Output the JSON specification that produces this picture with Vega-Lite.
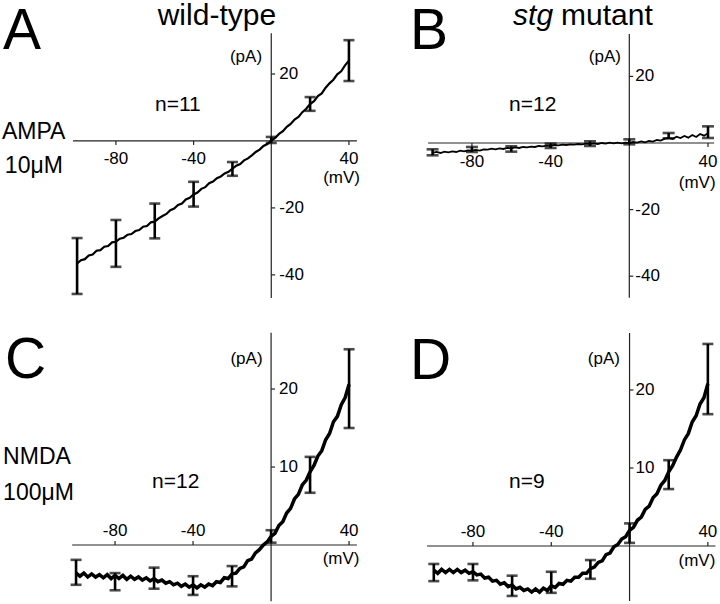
{
"$schema":"https://vega.github.io/schema/vega-lite/v6.json",
"padding":0,"spacing":0,"columns":2,"bounds":"flush",
"config":{"view":{"stroke":null},"text":{"font":"Liberation Sans","color":"#000","baseline":"alphabetic"},"rule":{"color":"#222","strokeWidth":1.2},"line":{"color":"#000"},"tick":{"color":"#000"}},
"datasets":{
"xt":[{"v":-80,"t":"-80"},{"v":-40,"t":"-40"},{"v":40,"t":"40"}],
"ytAB":[{"v":20,"t":"20"},{"v":-20,"t":"-20"},{"v":-40,"t":"-40"}],
"ytCD":[{"v":10,"t":"10"},{"v":20,"t":"20"}],
"trA":[{"v":-100,"i":-36.6},{"v":-98,"i":-35.6},{"v":-96,"i":-35.3},{"v":-94,"i":-34.2},{"v":-92,"i":-33.9},{"v":-90,"i":-32.8},{"v":-88,"i":-32.6},{"v":-86,"i":-31.6},{"v":-84,"i":-31.4},{"v":-82,"i":-30.3},{"v":-80,"i":-30.1},{"v":-78,"i":-29.2},{"v":-76,"i":-28.9},{"v":-74,"i":-28.0},{"v":-72,"i":-27.8},{"v":-70,"i":-26.9},{"v":-68,"i":-26.6},{"v":-66,"i":-25.6},{"v":-64,"i":-25.4},{"v":-62,"i":-24.3},{"v":-60,"i":-24.1},{"v":-58,"i":-23.1},{"v":-56,"i":-22.4},{"v":-54,"i":-21.8},{"v":-52,"i":-20.7},{"v":-50,"i":-20.2},{"v":-48,"i":-19.1},{"v":-46,"i":-18.7},{"v":-44,"i":-17.5},{"v":-42,"i":-17.0},{"v":-40,"i":-16.0},{"v":-38,"i":-15.4},{"v":-36,"i":-14.3},{"v":-34,"i":-13.8},{"v":-32,"i":-12.6},{"v":-30,"i":-12.1},{"v":-28,"i":-11.1},{"v":-26,"i":-10.6},{"v":-24,"i":-9.7},{"v":-22,"i":-9.2},{"v":-20,"i":-8.3},{"v":-18,"i":-7.4},{"v":-16,"i":-6.9},{"v":-14,"i":-5.8},{"v":-12,"i":-5.2},{"v":-10,"i":-4.3},{"v":-8,"i":-3.3},{"v":-6,"i":-2.6},{"v":-4,"i":-1.5},{"v":-2,"i":-0.9},{"v":0,"i":0.1},{"v":2,"i":0.9},{"v":4,"i":2.1},{"v":6,"i":2.9},{"v":8,"i":4.2},{"v":10,"i":5.1},{"v":12,"i":6.4},{"v":14,"i":7.2},{"v":16,"i":8.6},{"v":18,"i":9.6},{"v":20,"i":11.0},{"v":22,"i":11.9},{"v":24,"i":13.4},{"v":26,"i":14.2},{"v":28,"i":15.9},{"v":30,"i":17.2},{"v":32,"i":18.3},{"v":34,"i":19.9},{"v":36,"i":20.8},{"v":38,"i":22.6},{"v":40,"i":24.0}],
"trB":[{"v":-100,"i":-3.0},{"v":-98,"i":-2.7},{"v":-96,"i":-3.0},{"v":-94,"i":-2.6},{"v":-92,"i":-2.8},{"v":-90,"i":-2.5},{"v":-88,"i":-2.7},{"v":-86,"i":-2.3},{"v":-84,"i":-2.5},{"v":-82,"i":-2.2},{"v":-80,"i":-2.3},{"v":-78,"i":-2.1},{"v":-76,"i":-2.3},{"v":-74,"i":-1.9},{"v":-72,"i":-2.0},{"v":-70,"i":-1.7},{"v":-68,"i":-1.9},{"v":-66,"i":-1.6},{"v":-64,"i":-1.8},{"v":-62,"i":-1.5},{"v":-60,"i":-1.6},{"v":-58,"i":-1.3},{"v":-56,"i":-1.5},{"v":-54,"i":-1.2},{"v":-52,"i":-1.3},{"v":-50,"i":-1.1},{"v":-48,"i":-1.2},{"v":-46,"i":-0.9},{"v":-44,"i":-1.0},{"v":-42,"i":-0.8},{"v":-40,"i":-0.9},{"v":-38,"i":-0.6},{"v":-36,"i":-0.7},{"v":-34,"i":-0.5},{"v":-32,"i":-0.6},{"v":-30,"i":-0.4},{"v":-28,"i":-0.5},{"v":-26,"i":-0.3},{"v":-24,"i":-0.4},{"v":-22,"i":-0.2},{"v":-20,"i":-0.3},{"v":-18,"i":-0.1},{"v":-16,"i":-0.3},{"v":-14,"i":0.0},{"v":-12,"i":-0.2},{"v":-10,"i":0.1},{"v":-8,"i":-0.1},{"v":-6,"i":0.1},{"v":-4,"i":-0.1},{"v":-2,"i":0.1},{"v":0,"i":0.0},{"v":2,"i":0.3},{"v":4,"i":0.1},{"v":6,"i":0.5},{"v":8,"i":0.2},{"v":10,"i":0.6},{"v":12,"i":0.4},{"v":14,"i":0.9},{"v":16,"i":0.7},{"v":18,"i":1.3},{"v":20,"i":1.5},{"v":22,"i":1.2},{"v":24,"i":1.9},{"v":26,"i":1.5},{"v":28,"i":2.1},{"v":30,"i":1.6},{"v":32,"i":2.4},{"v":34,"i":1.8},{"v":36,"i":2.7},{"v":38,"i":2.2},{"v":40,"i":2.9}],
"trC":[{"v":-100,"i":-3.6},{"v":-98,"i":-4.0},{"v":-96,"i":-3.6},{"v":-94,"i":-4.1},{"v":-92,"i":-3.7},{"v":-90,"i":-4.1},{"v":-88,"i":-3.8},{"v":-86,"i":-4.2},{"v":-84,"i":-3.8},{"v":-82,"i":-4.3},{"v":-80,"i":-3.9},{"v":-78,"i":-4.3},{"v":-76,"i":-3.9},{"v":-74,"i":-4.4},{"v":-72,"i":-4.0},{"v":-70,"i":-4.4},{"v":-68,"i":-4.1},{"v":-66,"i":-4.5},{"v":-64,"i":-4.2},{"v":-62,"i":-4.6},{"v":-60,"i":-4.3},{"v":-58,"i":-4.7},{"v":-56,"i":-4.5},{"v":-54,"i":-4.9},{"v":-52,"i":-4.7},{"v":-50,"i":-5.1},{"v":-48,"i":-4.9},{"v":-46,"i":-5.3},{"v":-44,"i":-5.0},{"v":-42,"i":-5.4},{"v":-40,"i":-5.1},{"v":-38,"i":-5.5},{"v":-36,"i":-5.1},{"v":-34,"i":-5.4},{"v":-32,"i":-5.0},{"v":-30,"i":-5.2},{"v":-28,"i":-4.7},{"v":-26,"i":-4.8},{"v":-24,"i":-4.2},{"v":-22,"i":-4.3},{"v":-20,"i":-3.7},{"v":-18,"i":-3.6},{"v":-16,"i":-3.0},{"v":-14,"i":-2.8},{"v":-12,"i":-2.0},{"v":-10,"i":-1.8},{"v":-8,"i":-1.0},{"v":-6,"i":-0.6},{"v":-4,"i":0.0},{"v":-2,"i":0.4},{"v":0,"i":1.1},{"v":2,"i":1.5},{"v":4,"i":2.5},{"v":6,"i":3.0},{"v":8,"i":4.1},{"v":10,"i":4.7},{"v":12,"i":5.9},{"v":14,"i":6.5},{"v":16,"i":7.7},{"v":18,"i":8.3},{"v":20,"i":9.4},{"v":22,"i":10.2},{"v":24,"i":11.4},{"v":26,"i":12.1},{"v":28,"i":13.5},{"v":30,"i":14.3},{"v":32,"i":15.8},{"v":34,"i":16.5},{"v":36,"i":18.0},{"v":38,"i":18.9},{"v":40,"i":20.6}],
"trD":[{"v":-100,"i":-3.1},{"v":-98,"i":-3.5},{"v":-96,"i":-3.0},{"v":-94,"i":-3.4},{"v":-92,"i":-3.0},{"v":-90,"i":-3.4},{"v":-88,"i":-3.0},{"v":-86,"i":-3.4},{"v":-84,"i":-3.1},{"v":-82,"i":-3.5},{"v":-80,"i":-3.3},{"v":-78,"i":-3.7},{"v":-76,"i":-3.6},{"v":-74,"i":-4.1},{"v":-72,"i":-4.0},{"v":-70,"i":-4.5},{"v":-68,"i":-4.4},{"v":-66,"i":-4.9},{"v":-64,"i":-4.7},{"v":-62,"i":-5.2},{"v":-60,"i":-5.0},{"v":-58,"i":-5.5},{"v":-56,"i":-5.3},{"v":-54,"i":-5.7},{"v":-52,"i":-5.5},{"v":-50,"i":-5.9},{"v":-48,"i":-5.5},{"v":-46,"i":-5.9},{"v":-44,"i":-5.4},{"v":-42,"i":-5.7},{"v":-40,"i":-5.1},{"v":-38,"i":-5.3},{"v":-36,"i":-4.8},{"v":-34,"i":-4.9},{"v":-32,"i":-4.4},{"v":-30,"i":-4.5},{"v":-28,"i":-4.0},{"v":-26,"i":-4.0},{"v":-24,"i":-3.5},{"v":-22,"i":-3.5},{"v":-20,"i":-2.9},{"v":-18,"i":-2.7},{"v":-16,"i":-2.1},{"v":-14,"i":-1.9},{"v":-12,"i":-1.1},{"v":-10,"i":-0.9},{"v":-8,"i":-0.1},{"v":-6,"i":0.2},{"v":-4,"i":0.9},{"v":-2,"i":1.2},{"v":0,"i":2.0},{"v":2,"i":2.4},{"v":4,"i":3.3},{"v":6,"i":3.7},{"v":8,"i":4.7},{"v":10,"i":5.1},{"v":12,"i":6.2},{"v":14,"i":6.7},{"v":16,"i":7.8},{"v":18,"i":8.4},{"v":20,"i":9.5},{"v":22,"i":10.3},{"v":24,"i":11.4},{"v":26,"i":12.3},{"v":28,"i":13.6},{"v":30,"i":14.4},{"v":32,"i":15.9},{"v":34,"i":16.7},{"v":36,"i":18.2},{"v":38,"i":19.0},{"v":40,"i":20.8}],
"ebA":[{"v":-100,"lo":-45.7,"hi":-29.0},{"v":-80,"lo":-37.6,"hi":-23.6},{"v":-60,"lo":-29.1,"hi":-18.7},{"v":-40,"lo":-19.6,"hi":-12.2},{"v":-20,"lo":-10.4,"hi":-6.3},{"v":0,"lo":-0.6,"hi":1.2},{"v":20,"lo":9.0,"hi":13.1},{"v":40,"lo":17.9,"hi":30.1}],
"ebB":[{"v":-100,"lo":-3.7,"hi":-1.9},{"v":-80,"lo":-2.7,"hi":-1.2},{"v":-60,"lo":-2.6,"hi":-1.0},{"v":-40,"lo":-1.5,"hi":-0.2},{"v":-20,"lo":-0.9,"hi":0.5},{"v":0,"lo":-0.4,"hi":1.1},{"v":20,"lo":1.4,"hi":3.0},{"v":40,"lo":1.5,"hi":5.0}],
"ebC":[{"v":-100,"lo":-5.1,"hi":-1.9},{"v":-80,"lo":-5.8,"hi":-3.6},{"v":-60,"lo":-5.6,"hi":-2.9},{"v":-40,"lo":-6.4,"hi":-4.0},{"v":-20,"lo":-5.3,"hi":-2.7},{"v":0,"lo":0.3,"hi":1.9},{"v":20,"lo":6.7,"hi":11.3},{"v":40,"lo":15.0,"hi":25.1}],
"ebD":[{"v":-100,"lo":-4.5,"hi":-2.3},{"v":-80,"lo":-4.4,"hi":-2.3},{"v":-60,"lo":-6.4,"hi":-3.8},{"v":-40,"lo":-6.0,"hi":-3.3},{"v":-20,"lo":-4.2,"hi":-1.8},{"v":0,"lo":0.4,"hi":2.9},{"v":20,"lo":7.3,"hi":11.0},{"v":40,"lo":16.9,"hi":25.9}]
},
"concat":[
{"width":360,"height":302,"data":{"values":[{}]},"layer":[
{"mark":"rule","encoding":{"x":{"datum":-102.1,"type":"quantitative","scale":{"domain":[-139.7,45.7],"nice":false,"zero":false},"axis":null},"x2":{"datum":44.1},"y":{"datum":0,"type":"quantitative","scale":{"domain":[-48.4,41.8],"nice":false,"zero":false},"axis":null}}},
{"mark":"rule","encoding":{"x":{"datum":0,"type":"quantitative","scale":{"domain":[-139.7,45.7],"nice":false,"zero":false},"axis":null},"y":{"datum":32.2,"type":"quantitative","scale":{"domain":[-48.4,41.8],"nice":false,"zero":false},"axis":null},"y2":{"datum":-46.9}}},
{"data":{"name":"xt"},"mark":"rule","encoding":{"x":{"field":"v","type":"quantitative","scale":{"domain":[-139.7,45.7],"nice":false,"zero":false},"axis":null},"y":{"datum":0,"type":"quantitative","scale":{"domain":[-48.4,41.8],"nice":false,"zero":false},"axis":null},"y2":{"datum":-1.2}}},
{"data":{"name":"ytAB"},"mark":"rule","encoding":{"x":{"datum":0,"type":"quantitative","scale":{"domain":[-139.7,45.7],"nice":false,"zero":false},"axis":null},"x2":{"datum":2},"y":{"field":"v","type":"quantitative","scale":{"domain":[-48.4,41.8],"nice":false,"zero":false},"axis":null}}},
{"data":{"name":"xt"},"mark":{"type":"text","fontSize":17,"dy":23},"encoding":{"x":{"field":"v","type":"quantitative","scale":{"domain":[-139.7,45.7],"nice":false,"zero":false},"axis":null},"y":{"datum":0,"type":"quantitative","scale":{"domain":[-48.4,41.8],"nice":false,"zero":false},"axis":null},"text":{"field":"t"}}},
{"data":{"name":"ytAB"},"mark":{"type":"text","fontSize":17,"align":"left","baseline":"middle","dx":8},"encoding":{"x":{"datum":0,"type":"quantitative","scale":{"domain":[-139.7,45.7],"nice":false,"zero":false},"axis":null},"y":{"field":"v","type":"quantitative","scale":{"domain":[-48.4,41.8],"nice":false,"zero":false},"axis":null},"text":{"field":"t"}}},
{"mark":{"type":"text","fontSize":17},"encoding":{"x":{"datum":36.2,"type":"quantitative","scale":{"domain":[-139.7,45.7],"nice":false,"zero":false},"axis":null},"y":{"datum":-12.6,"type":"quantitative","scale":{"domain":[-48.4,41.8],"nice":false,"zero":false},"axis":null},"text":{"value":"(mV)"}}},
{"mark":{"type":"text","fontSize":17},"encoding":{"x":{"datum":-13.0,"type":"quantitative","scale":{"domain":[-139.7,45.7],"nice":false,"zero":false},"axis":null},"y":{"datum":23.6,"type":"quantitative","scale":{"domain":[-48.4,41.8],"nice":false,"zero":false},"axis":null},"text":{"value":"(pA)"}}},
{"data":{"name":"trA"},"mark":{"type":"line","strokeWidth":2.2},"encoding":{"x":{"field":"v","type":"quantitative","scale":{"domain":[-139.7,45.7],"nice":false,"zero":false},"axis":null},"y":{"field":"i","type":"quantitative","scale":{"domain":[-48.4,41.8],"nice":false,"zero":false},"axis":null}}},
{"data":{"name":"ebA"},"mark":{"type":"rule","color":"#000","strokeWidth":2.6},"encoding":{"x":{"field":"v","type":"quantitative","scale":{"domain":[-139.7,45.7],"nice":false,"zero":false},"axis":null},"y":{"field":"lo","type":"quantitative","scale":{"domain":[-48.4,41.8],"nice":false,"zero":false},"axis":null},"y2":{"field":"hi"}}},
{"data":{"name":"ebA"},"transform":[{"fold":["lo","hi"],"as":["k","y"]}],"mark":{"type":"tick","orient":"horizontal","size":11,"thickness":2.6},"encoding":{"x":{"field":"v","type":"quantitative","scale":{"domain":[-139.7,45.7],"nice":false,"zero":false},"axis":null},"y":{"field":"y","type":"quantitative","scale":{"domain":[-48.4,41.8],"nice":false,"zero":false},"axis":null}}},
{"mark":{"type":"text","fontSize":57,"align":"left"},"encoding":{"x":{"datum":-138.2,"type":"quantitative","scale":{"domain":[-139.7,45.7],"nice":false,"zero":false},"axis":null},"y":{"datum":27.6,"type":"quantitative","scale":{"domain":[-48.4,41.8],"nice":false,"zero":false},"axis":null},"text":{"value":"A"}}},
{"mark":{"type":"text","fontSize":30,"align":"center"},"encoding":{"x":{"datum":-28.0,"type":"quantitative","scale":{"domain":[-139.7,45.7],"nice":false,"zero":false},"axis":null},"y":{"datum":34.7,"type":"quantitative","scale":{"domain":[-48.4,41.8],"nice":false,"zero":false},"axis":null},"text":{"value":"wild-type"}}},
{"mark":{"type":"text","fontSize":21,"align":"left"},"encoding":{"x":{"datum":-59.9,"type":"quantitative","scale":{"domain":[-139.7,45.7],"nice":false,"zero":false},"axis":null},"y":{"datum":9.0,"type":"quantitative","scale":{"domain":[-48.4,41.8],"nice":false,"zero":false},"axis":null},"text":{"value":"n=11"}}},
{"mark":{"type":"text","fontSize":23,"align":"left"},"encoding":{"x":{"datum":-138.7,"type":"quantitative","scale":{"domain":[-139.7,45.7],"nice":false,"zero":false},"axis":null},"y":{"datum":0.6,"type":"quantitative","scale":{"domain":[-48.4,41.8],"nice":false,"zero":false},"axis":null},"text":{"value":"AMPA"}}},
{"mark":{"type":"text","fontSize":23,"align":"left"},"encoding":{"x":{"datum":-137.2,"type":"quantitative","scale":{"domain":[-139.7,45.7],"nice":false,"zero":false},"axis":null},"y":{"datum":-9.6,"type":"quantitative","scale":{"domain":[-48.4,41.8],"nice":false,"zero":false},"axis":null},"text":{"value":"10μM"}}}
]},
{"width":360,"height":302,"data":{"values":[{}]},"layer":[
{"mark":"rule","encoding":{"x":{"datum":-102.3,"type":"quantitative","scale":{"domain":[-136.9,46.1],"nice":false,"zero":false},"axis":null},"x2":{"datum":43.1},"y":{"datum":0,"type":"quantitative","scale":{"domain":[-48.05,42.64],"nice":false,"zero":false},"axis":null}}},
{"mark":"rule","encoding":{"x":{"datum":0,"type":"quantitative","scale":{"domain":[-136.9,46.1],"nice":false,"zero":false},"axis":null},"y":{"datum":32.7,"type":"quantitative","scale":{"domain":[-48.05,42.64],"nice":false,"zero":false},"axis":null},"y2":{"datum":-46.5}}},
{"data":{"name":"xt"},"mark":"rule","encoding":{"x":{"field":"v","type":"quantitative","scale":{"domain":[-136.9,46.1],"nice":false,"zero":false},"axis":null},"y":{"datum":0,"type":"quantitative","scale":{"domain":[-48.05,42.64],"nice":false,"zero":false},"axis":null},"y2":{"datum":-1.2}}},
{"data":{"name":"ytAB"},"mark":"rule","encoding":{"x":{"datum":0,"type":"quantitative","scale":{"domain":[-136.9,46.1],"nice":false,"zero":false},"axis":null},"x2":{"datum":2},"y":{"field":"v","type":"quantitative","scale":{"domain":[-48.05,42.64],"nice":false,"zero":false},"axis":null}}},
{"data":{"name":"xt"},"mark":{"type":"text","fontSize":17,"dy":24},"encoding":{"x":{"field":"v","type":"quantitative","scale":{"domain":[-136.9,46.1],"nice":false,"zero":false},"axis":null},"y":{"datum":0,"type":"quantitative","scale":{"domain":[-48.05,42.64],"nice":false,"zero":false},"axis":null},"text":{"field":"t"}}},
{"data":{"name":"ytAB"},"mark":{"type":"text","fontSize":17,"align":"left","baseline":"middle","dx":6},"encoding":{"x":{"datum":0,"type":"quantitative","scale":{"domain":[-136.9,46.1],"nice":false,"zero":false},"axis":null},"y":{"field":"v","type":"quantitative","scale":{"domain":[-48.05,42.64],"nice":false,"zero":false},"axis":null},"text":{"field":"t"}}},
{"mark":{"type":"text","fontSize":17},"encoding":{"x":{"datum":34.5,"type":"quantitative","scale":{"domain":[-136.9,46.1],"nice":false,"zero":false},"axis":null},"y":{"datum":-13.5,"type":"quantitative","scale":{"domain":[-48.05,42.64],"nice":false,"zero":false},"axis":null},"text":{"value":"(mV)"}}},
{"mark":{"type":"text","fontSize":17},"encoding":{"x":{"datum":-12.4,"type":"quantitative","scale":{"domain":[-136.9,46.1],"nice":false,"zero":false},"axis":null},"y":{"datum":24.3,"type":"quantitative","scale":{"domain":[-48.05,42.64],"nice":false,"zero":false},"axis":null},"text":{"value":"(pA)"}}},
{"data":{"name":"trB"},"mark":{"type":"line","strokeWidth":1.8},"encoding":{"x":{"field":"v","type":"quantitative","scale":{"domain":[-136.9,46.1],"nice":false,"zero":false},"axis":null},"y":{"field":"i","type":"quantitative","scale":{"domain":[-48.05,42.64],"nice":false,"zero":false},"axis":null}}},
{"data":{"name":"ebB"},"mark":{"type":"rule","color":"#000","strokeWidth":2.6},"encoding":{"x":{"field":"v","type":"quantitative","scale":{"domain":[-136.9,46.1],"nice":false,"zero":false},"axis":null},"y":{"field":"lo","type":"quantitative","scale":{"domain":[-48.05,42.64],"nice":false,"zero":false},"axis":null},"y2":{"field":"hi"}}},
{"data":{"name":"ebB"},"transform":[{"fold":["lo","hi"],"as":["k","y"]}],"mark":{"type":"tick","orient":"horizontal","size":12,"thickness":2.6},"encoding":{"x":{"field":"v","type":"quantitative","scale":{"domain":[-136.9,46.1],"nice":false,"zero":false},"axis":null},"y":{"field":"y","type":"quantitative","scale":{"domain":[-48.05,42.64],"nice":false,"zero":false},"axis":null}}},
{"mark":{"type":"text","fontSize":57,"align":"left"},"encoding":{"x":{"datum":-111.5,"type":"quantitative","scale":{"domain":[-136.9,46.1],"nice":false,"zero":false},"axis":null},"y":{"datum":28.3,"type":"quantitative","scale":{"domain":[-48.05,42.64],"nice":false,"zero":false},"axis":null},"text":{"value":"B"}}},
{"mark":{"type":"text","fontSize":30,"align":"left","fontStyle":"italic"},"encoding":{"x":{"datum":-59.1,"type":"quantitative","scale":{"domain":[-136.9,46.1],"nice":false,"zero":false},"axis":null},"y":{"datum":35.5,"type":"quantitative","scale":{"domain":[-48.05,42.64],"nice":false,"zero":false},"axis":null},"text":{"value":"stg"}}},
{"mark":{"type":"text","fontSize":30,"align":"left"},"encoding":{"x":{"datum":-34.7,"type":"quantitative","scale":{"domain":[-136.9,46.1],"nice":false,"zero":false},"axis":null},"y":{"datum":35.5,"type":"quantitative","scale":{"domain":[-48.05,42.64],"nice":false,"zero":false},"axis":null},"text":{"value":"mutant"}}},
{"mark":{"type":"text","fontSize":21,"align":"left"},"encoding":{"x":{"datum":-61.1,"type":"quantitative","scale":{"domain":[-136.9,46.1],"nice":false,"zero":false},"axis":null},"y":{"datum":9.6,"type":"quantitative","scale":{"domain":[-48.05,42.64],"nice":false,"zero":false},"axis":null},"text":{"value":"n=12"}}}
]},
{"width":360,"height":302,"data":{"values":[{}]},"layer":[
{"mark":"rule","encoding":{"x":{"datum":-102,"type":"quantitative","scale":{"domain":[-139.0,45.6],"nice":false,"zero":false},"axis":null},"x2":{"datum":44},"y":{"datum":0,"type":"quantitative","scale":{"domain":[-7.69,31.03],"nice":false,"zero":false},"axis":null}}},
{"mark":"rule","encoding":{"x":{"datum":0,"type":"quantitative","scale":{"domain":[-139.0,45.6],"nice":false,"zero":false},"axis":null},"y":{"datum":27.2,"type":"quantitative","scale":{"domain":[-7.69,31.03],"nice":false,"zero":false},"axis":null},"y2":{"datum":-7.2}}},
{"data":{"name":"xt"},"mark":"rule","encoding":{"x":{"field":"v","type":"quantitative","scale":{"domain":[-139.0,45.6],"nice":false,"zero":false},"axis":null},"y":{"datum":0,"type":"quantitative","scale":{"domain":[-7.69,31.03],"nice":false,"zero":false},"axis":null},"y2":{"datum":0.5}}},
{"data":{"name":"ytCD"},"mark":"rule","encoding":{"x":{"datum":0,"type":"quantitative","scale":{"domain":[-139.0,45.6],"nice":false,"zero":false},"axis":null},"x2":{"datum":2},"y":{"field":"v","type":"quantitative","scale":{"domain":[-7.69,31.03],"nice":false,"zero":false},"axis":null}}},
{"data":{"name":"xt"},"mark":{"type":"text","fontSize":17,"dy":-9},"encoding":{"x":{"field":"v","type":"quantitative","scale":{"domain":[-139.0,45.6],"nice":false,"zero":false},"axis":null},"y":{"datum":0,"type":"quantitative","scale":{"domain":[-7.69,31.03],"nice":false,"zero":false},"axis":null},"text":{"field":"t"}}},
{"data":{"name":"ytCD"},"mark":{"type":"text","fontSize":17,"align":"left","baseline":"middle","dx":8},"encoding":{"x":{"datum":0,"type":"quantitative","scale":{"domain":[-139.0,45.6],"nice":false,"zero":false},"axis":null},"y":{"field":"v","type":"quantitative","scale":{"domain":[-7.69,31.03],"nice":false,"zero":false},"axis":null},"text":{"field":"t"}}},
{"mark":{"type":"text","fontSize":17},"encoding":{"x":{"datum":35.9,"type":"quantitative","scale":{"domain":[-139.0,45.6],"nice":false,"zero":false},"axis":null},"y":{"datum":-2.44,"type":"quantitative","scale":{"domain":[-7.69,31.03],"nice":false,"zero":false},"axis":null},"text":{"value":"(mV)"}}},
{"mark":{"type":"text","fontSize":17},"encoding":{"x":{"datum":-12.6,"type":"quantitative","scale":{"domain":[-139.0,45.6],"nice":false,"zero":false},"axis":null},"y":{"datum":23.2,"type":"quantitative","scale":{"domain":[-7.69,31.03],"nice":false,"zero":false},"axis":null},"text":{"value":"(pA)"}}},
{"data":{"name":"trC"},"mark":{"type":"line","strokeWidth":3.5},"encoding":{"x":{"field":"v","type":"quantitative","scale":{"domain":[-139.0,45.6],"nice":false,"zero":false},"axis":null},"y":{"field":"i","type":"quantitative","scale":{"domain":[-7.69,31.03],"nice":false,"zero":false},"axis":null}}},
{"data":{"name":"ebC"},"mark":{"type":"rule","color":"#000","strokeWidth":2.6},"encoding":{"x":{"field":"v","type":"quantitative","scale":{"domain":[-139.0,45.6],"nice":false,"zero":false},"axis":null},"y":{"field":"lo","type":"quantitative","scale":{"domain":[-7.69,31.03],"nice":false,"zero":false},"axis":null},"y2":{"field":"hi"}}},
{"data":{"name":"ebC"},"transform":[{"fold":["lo","hi"],"as":["k","y"]}],"mark":{"type":"tick","orient":"horizontal","size":11,"thickness":2.6},"encoding":{"x":{"field":"v","type":"quantitative","scale":{"domain":[-139.0,45.6],"nice":false,"zero":false},"axis":null},"y":{"field":"y","type":"quantitative","scale":{"domain":[-7.69,31.03],"nice":false,"zero":false},"axis":null}}},
{"mark":{"type":"text","fontSize":57,"align":"left"},"encoding":{"x":{"datum":-136.4,"type":"quantitative","scale":{"domain":[-139.0,45.6],"nice":false,"zero":false},"axis":null},"y":{"datum":21.4,"type":"quantitative","scale":{"domain":[-7.69,31.03],"nice":false,"zero":false},"axis":null},"text":{"value":"C"}}},
{"mark":{"type":"text","fontSize":21,"align":"left"},"encoding":{"x":{"datum":-61.0,"type":"quantitative","scale":{"domain":[-139.0,45.6],"nice":false,"zero":false},"axis":null},"y":{"datum":7.3,"type":"quantitative","scale":{"domain":[-7.69,31.03],"nice":false,"zero":false},"axis":null},"text":{"value":"n=12"}}},
{"mark":{"type":"text","fontSize":23,"align":"left"},"encoding":{"x":{"datum":-137.4,"type":"quantitative","scale":{"domain":[-139.0,45.6],"nice":false,"zero":false},"axis":null},"y":{"datum":10.4,"type":"quantitative","scale":{"domain":[-7.69,31.03],"nice":false,"zero":false},"axis":null},"text":{"value":"NMDA"}}},
{"mark":{"type":"text","fontSize":23,"align":"left"},"encoding":{"x":{"datum":-137.4,"type":"quantitative","scale":{"domain":[-139.0,45.6],"nice":false,"zero":false},"axis":null},"y":{"datum":5.8,"type":"quantitative","scale":{"domain":[-7.69,31.03],"nice":false,"zero":false},"axis":null},"text":{"value":"100μM"}}}
]},
{"width":360,"height":302,"data":{"values":[{}]},"layer":[
{"mark":"rule","encoding":{"x":{"datum":-103.5,"type":"quantitative","scale":{"domain":[-137.7,46.2],"nice":false,"zero":false},"axis":null},"x2":{"datum":43.9},"y":{"datum":0,"type":"quantitative","scale":{"domain":[-7.56,31.15],"nice":false,"zero":false},"axis":null}}},
{"mark":"rule","encoding":{"x":{"datum":0,"type":"quantitative","scale":{"domain":[-137.7,46.2],"nice":false,"zero":false},"axis":null},"y":{"datum":27.3,"type":"quantitative","scale":{"domain":[-7.56,31.15],"nice":false,"zero":false},"axis":null},"y2":{"datum":-7.05}}},
{"data":{"name":"xt"},"mark":"rule","encoding":{"x":{"field":"v","type":"quantitative","scale":{"domain":[-137.7,46.2],"nice":false,"zero":false},"axis":null},"y":{"datum":0,"type":"quantitative","scale":{"domain":[-7.56,31.15],"nice":false,"zero":false},"axis":null},"y2":{"datum":0.5}}},
{"data":{"name":"ytCD"},"mark":"rule","encoding":{"x":{"datum":0,"type":"quantitative","scale":{"domain":[-137.7,46.2],"nice":false,"zero":false},"axis":null},"x2":{"datum":2},"y":{"field":"v","type":"quantitative","scale":{"domain":[-7.56,31.15],"nice":false,"zero":false},"axis":null}}},
{"data":{"name":"xt"},"mark":{"type":"text","fontSize":17,"dy":-9},"encoding":{"x":{"field":"v","type":"quantitative","scale":{"domain":[-137.7,46.2],"nice":false,"zero":false},"axis":null},"y":{"datum":0,"type":"quantitative","scale":{"domain":[-7.56,31.15],"nice":false,"zero":false},"axis":null},"text":{"field":"t"}}},
{"data":{"name":"ytCD"},"mark":{"type":"text","fontSize":17,"align":"left","baseline":"middle","dx":6},"encoding":{"x":{"datum":0,"type":"quantitative","scale":{"domain":[-137.7,46.2],"nice":false,"zero":false},"axis":null},"y":{"field":"v","type":"quantitative","scale":{"domain":[-7.56,31.15],"nice":false,"zero":false},"axis":null},"text":{"field":"t"}}},
{"mark":{"type":"text","fontSize":17},"encoding":{"x":{"datum":34.4,"type":"quantitative","scale":{"domain":[-137.7,46.2],"nice":false,"zero":false},"axis":null},"y":{"datum":-2.56,"type":"quantitative","scale":{"domain":[-7.56,31.15],"nice":false,"zero":false},"axis":null},"text":{"value":"(mV)"}}},
{"mark":{"type":"text","fontSize":17},"encoding":{"x":{"datum":-13.1,"type":"quantitative","scale":{"domain":[-137.7,46.2],"nice":false,"zero":false},"axis":null},"y":{"datum":23.3,"type":"quantitative","scale":{"domain":[-7.56,31.15],"nice":false,"zero":false},"axis":null},"text":{"value":"(pA)"}}},
{"data":{"name":"trD"},"mark":{"type":"line","strokeWidth":3.5},"encoding":{"x":{"field":"v","type":"quantitative","scale":{"domain":[-137.7,46.2],"nice":false,"zero":false},"axis":null},"y":{"field":"i","type":"quantitative","scale":{"domain":[-7.56,31.15],"nice":false,"zero":false},"axis":null}}},
{"data":{"name":"ebD"},"mark":{"type":"rule","color":"#000","strokeWidth":2.6},"encoding":{"x":{"field":"v","type":"quantitative","scale":{"domain":[-137.7,46.2],"nice":false,"zero":false},"axis":null},"y":{"field":"lo","type":"quantitative","scale":{"domain":[-7.56,31.15],"nice":false,"zero":false},"axis":null},"y2":{"field":"hi"}}},
{"data":{"name":"ebD"},"transform":[{"fold":["lo","hi"],"as":["k","y"]}],"mark":{"type":"tick","orient":"horizontal","size":11,"thickness":2.6},"encoding":{"x":{"field":"v","type":"quantitative","scale":{"domain":[-137.7,46.2],"nice":false,"zero":false},"axis":null},"y":{"field":"y","type":"quantitative","scale":{"domain":[-7.56,31.15],"nice":false,"zero":false},"axis":null}}},
{"mark":{"type":"text","fontSize":57,"align":"left"},"encoding":{"x":{"datum":-112.2,"type":"quantitative","scale":{"domain":[-137.7,46.2],"nice":false,"zero":false},"axis":null},"y":{"datum":21.4,"type":"quantitative","scale":{"domain":[-7.56,31.15],"nice":false,"zero":false},"axis":null},"text":{"value":"D"}}},
{"mark":{"type":"text","fontSize":21,"align":"left"},"encoding":{"x":{"datum":-61.6,"type":"quantitative","scale":{"domain":[-137.7,46.2],"nice":false,"zero":false},"axis":null},"y":{"datum":7.4,"type":"quantitative","scale":{"domain":[-7.56,31.15],"nice":false,"zero":false},"axis":null},"text":{"value":"n=9"}}}
]}
]
}
